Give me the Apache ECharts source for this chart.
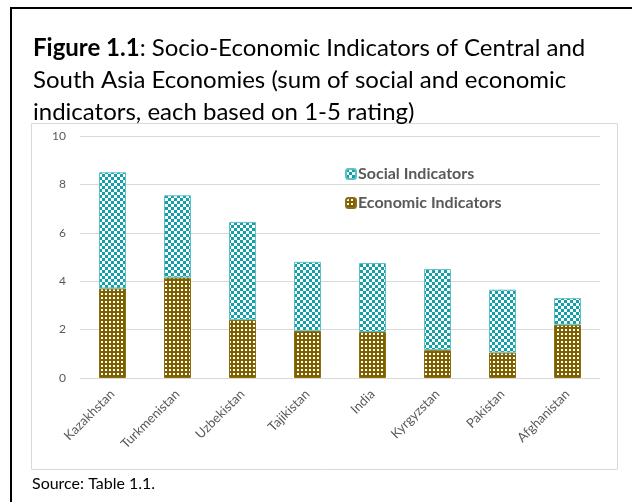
<!DOCTYPE html>
<html>
<head>
<meta charset="utf-8">
<script src="https://cdn.jsdelivr.net/npm/echarts@6/dist/echarts.min.js"></script>
<style>
html,body{margin:0;padding:0;background:#fff;}
#c{width:632px;height:502px;}
</style>
</head>
<body>
<div id="c"></div>
<script>
var categories = ['Kazakhstan','Turkmenistan','Uzbekistan','Tajikistan','India','Kyrgyzstan','Pakistan','Afghanistan'];
var economic = [3.7, 4.15, 2.4, 1.95, 1.9, 1.15, 1.05, 2.2];
var social = [4.8, 3.4, 4.05, 2.85, 2.85, 3.35, 2.6, 1.1];
var yTicks = [0, 2, 4, 6, 8, 10];
var seriesNames = ['Social Indicators', 'Economic Indicators'];

function checker(fg, bg, s) {
  var c = document.createElement('canvas');
  c.width = s * 2; c.height = s * 2;
  var g = c.getContext('2d');
  g.fillStyle = bg; g.fillRect(0, 0, s * 2, s * 2);
  g.fillStyle = fg; g.fillRect(0, 0, s, s); g.fillRect(s, s, s, s);
  return c;
}
function dots(fg, bg, p, d) {
  var c = document.createElement('canvas');
  c.width = p; c.height = p;
  var g = c.getContext('2d');
  g.fillStyle = bg; g.fillRect(0, 0, p, p);
  g.fillStyle = fg; g.fillRect(1, 1, d, d);
  return c;
}
var teal = '#129fa8', brown = '#7f6000';
var socialFill = {image: checker(teal, '#ffffff', 3), repeat: 'repeat'};
var econFill = {image: dots('#ffffff', brown, 4, 2), repeat: 'repeat'};

var chart = echarts.init(document.getElementById('c'), null, {renderer: 'canvas'});
var font = 'Lato, "Open Sans", sans-serif';
chart.setOption({
  animation: false,
  textStyle: {fontFamily: font},
  title: {
    left: 28, top: 27,
    text: '{b|Figure 1.1}: Socio-Economic Indicators of Central and\nSouth Asia Economies (sum of social and economic\nindicators, each based on 1-5 rating)',
    textStyle: {
      fontFamily: font, fontSize: 24, fontWeight: 'normal', color: '#000', lineHeight: 32,
      rich: {b: {fontFamily: font, fontSize: 24, fontWeight: 'bold', color: '#000', lineHeight: 32}}
    }
  },
  graphic: [
    {type: 'rect', shape: {x: 31.5, y: 123.5, width: 586, height: 346}, style: {fill: 'none', stroke: '#d9d9d9', lineWidth: 1}, z: -1},
    {type: 'line', shape: {x1: 11, y1: 8, x2: 11, y2: 502}, style: {stroke: '#000', lineWidth: 2}},
    {type: 'line', shape: {x1: 10, y1: 8, x2: 632, y2: 8}, style: {stroke: '#000', lineWidth: 2}},
    {type: 'text', left: 32, top: 476, style: {text: 'Source: Table 1.1.', fontFamily: font, fontSize: 16, fill: '#000'}}
  ],
  legend: {
    data: seriesNames,
    orient: 'vertical',
    left: 340, top: 161,
    itemWidth: 10, itemHeight: 10, itemGap: 13,
    textStyle: {fontFamily: font, fontSize: 16, fontWeight: 'bold', color: '#595959', padding: [0, 0, 0, -3]}
  },
  grid: {left: 80, right: 32, top: 136, bottom: 124, containLabel: false},
  xAxis: {
    type: 'category', data: categories,
    axisLine: {lineStyle: {color: '#d9d9d9'}},
    axisTick: {show: false},
    axisLabel: {rotate: 45, color: '#595959', fontSize: 13, margin: 14, interval: 0}
  },
  yAxis: {
    type: 'value', min: yTicks[0], max: yTicks[yTicks.length - 1], interval: 2,
    axisLine: {show: false}, axisTick: {show: false},
    splitLine: {lineStyle: {color: '#d9d9d9'}},
    axisLabel: {color: '#595959', fontSize: 12, margin: 14}
  },
  series: [
    {name: 'Economic Indicators', type: 'bar', stack: 't', data: economic, barWidth: 27,
     itemStyle: {color: econFill, borderColor: '#8c6d10', borderWidth: 1}},
    {name: 'Social Indicators', type: 'bar', stack: 't', data: social, barWidth: 27,
     itemStyle: {color: socialFill, borderColor: '#5cc1c7', borderWidth: 1}}
  ]
});
</script>
</body>
</html>
